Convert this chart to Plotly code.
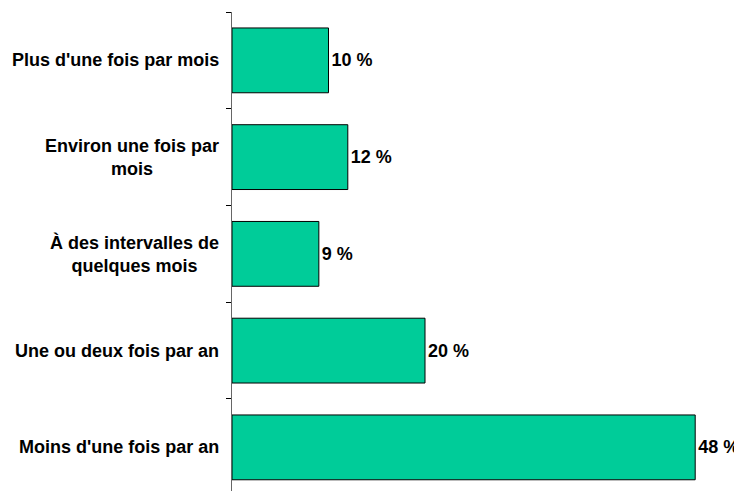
import plotly.graph_objects as go

categories = [
    "Plus d'une fois par mois",
    "Environ une fois par mois",
    "À des intervalles de quelques mois",
    "Une ou deux fois par an",
    "Moins d'une fois par an",
]
label_lines = [
    "Plus d'une fois par mois",
    "Environ une fois par<br>mois",
    "À des intervalles de<br>quelques mois",
    "Une ou deux fois par an",
    "Moins d'une fois par an",
]
percents = [10, 12, 9, 20, 48]

FONT = "Liberation Sans, Arial, sans-serif"

fig = go.Figure()

fig.add_trace(
    go.Bar(
        x=percents,
        y=categories,
        orientation="h",
        width=0.67,
        marker={"color": "#00CC99", "line": {"color": "#000000", "width": 1}},
        text=[f"{p} %" for p in percents],
        texttemplate="<b>%{text}</b>",
        textposition="outside",
        textfont={"family": FONT, "size": 18, "color": "#000000"},
        constraintext="none",
        cliponaxis=False,
        hoverinfo="skip",
    )
)

# category labels as annotations so two-line labels stay centred
for cat, lbl in zip(categories, label_lines):
    fig.add_annotation(
        x=0,
        y=cat,
        xref="x",
        yref="y",
        text=f"<b>{lbl}</b>",
        showarrow=False,
        xanchor="right",
        yanchor="middle",
        align="center",
        xshift=-11,
        font={"family": FONT, "size": 18, "color": "#000000"},
    )

# page body adds an 8px offset, so the figure is drawn 8px smaller
fig.update_layout(
    width=734,
    height=483,
    margin={"l": 224, "r": 0, "t": 4, "b": 0},
    paper_bgcolor="white",
    plot_bgcolor="white",
    showlegend=False,
    font={"family": FONT, "size": 18, "color": "#000000"},
)

fig.update_xaxes(visible=False, range=[0, 52.85])
fig.update_yaxes(
    type="category",
    categoryorder="array",
    categoryarray=categories,
    range=[4.451, -0.5],
    showticklabels=False,
    showgrid=False,
    zeroline=False,
    showline=True,
    linecolor="#666666",
    linewidth=1,
    ticks="outside",
    tickson="boundaries",
    ticklen=5,
    tickcolor="#000000",
)

fig.write_html("out.html")
